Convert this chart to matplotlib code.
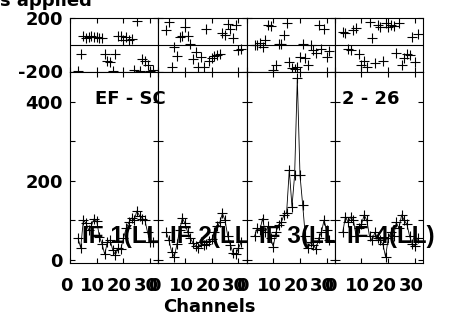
import numpy as np
import matplotlib
matplotlib.use("Agg")
import matplotlib.pyplot as plt
from matplotlib.ticker import FixedLocator
from matplotlib.transforms import ScaledTranslation

plt.rcParams["axes.unicode_minus"] = False

# channels plotted in each IF
chans = np.arange(3, 32)

if_labels = ["IF 1(LL)", "IF 2(LL)", "IF 3(LL)", "IF 4(LL)"]

amp_if1 = [55, 31, 101, 93, 75, 87, 104, 98, 59, 40, 14, 46, 50, 25, 13,
           30, 28, 55, 80, 95, 106, 101, 124, 112, 105, 101, 70, 46, 45]
amp_if2 = [70, 50, 21, 8, 40, 75, 106, 93, 70, 55, 43, 35, 30, 45, 38,
           40, 48, 52, 70, 85, 95, 118, 100, 60, 38, 17, 15, 30, 45]
amp_if3 = [60, 80, 75, 105, 70, 85, 55, 34, 70, 89, 95, 114, 120, 228, 135,
           215, 460, 215, 140, 60, 30, 45, 38, 28, 55, 70, 101, 75, 50]
amp_if4 = [70, 110, 95, 109, 100, 60, 80, 90, 114, 100, 60, 50, 70, 55, 50,
           40, 8, 55, 70, 60, 95, 80, 114, 100, 90, 60, 40, 35, 55]

ph_if1 = [-195, -69, 69, 49, 55, 62, 55, 57, 52, 47, -69, -120, -132, -195, -69,
          69, 62, 32, 55, 32, 40, -190, 177, -195, -107, -125, -150, -195, -190]
ph_if2 = [107, 170, -170, -19, -82, 58, 69, 132, 69, 6, -107, -57, -170, -95, -170,
          119, -120, -100, -85, -80, -70, 90, 75, 157, 120, 54, 150, -40, -32]
ph_if3 = [-5, -4, 10, -20, 34, 147, 140, -190, -155, 9, 9, 72, 160, -130, -175,
          -180, -165, -90, 9, -100, -150, 0, -41, -60, 147, -30, 115, -92, -50]
ph_if4 = [97, 85, -29, -41, 110, 122, -70, -150, -125, -170, 172, 47, -140, 147, 134,
          -125, 160, 134, 150, 140, -60, 160, -150, -100, -70, -80, 60, -130, 80]

amps = [amp_if1, amp_if2, amp_if3, amp_if4]
phases = [ph_if1, ph_if2, ph_if3, ph_if4]

W, H = 450, 320
fig = plt.figure(figsize=(W / 100, H / 100), dpi=100)

bold = dict(family="DejaVu Sans", weight="bold")
x0, pw = 70, 88.25
shift = ScaledTranslation(-0.04, 0, fig.dpi_scale_trans)

for i in range(4):
    left = (x0 + i * pw) / W
    axp = fig.add_axes([left, 1 - 71.5 / H, pw / W, 53.5 / H])
    axa = fig.add_axes([left, 1 - 263 / H, pw / W, 191.5 / H])

    for ax in (axp, axa):
        ax.set_xlim(0, 33)
        ax.tick_params(which="both", direction="in", top=True, right=True,
                       length=3.6, width=0.8, labelsize=13)
        for s in ax.spines.values():
            s.set_linewidth(0.8)
        ax.xaxis.set_major_locator(FixedLocator([0, 10, 20, 30]))

    # phase panel
    axp.set_ylim(-200, 200)
    axp.axhline(0, color="black", lw=0.8)
    axp.plot(chans, phases[i], "+", color="black", ms=6.5, mew=0.8)
    axp.set_yticks([-200, 200])
    axp.set_xticklabels([])
    if i > 0:
        axp.set_yticklabels([])
    else:
        axp.tick_params(axis="y", pad=5)

    # amplitude panel
    axa.set_ylim(-7.6, 477)
    axa.plot(chans, amps[i], "-+", color="black", lw=0.6, ms=6.5, mew=0.8)
    axa.set_yticks([0, 200, 400])
    axa.yaxis.set_minor_locator(FixedLocator([100, 300]))
    axa.tick_params(axis="x", pad=10)
    if i > 0:
        axa.set_yticklabels([])
    else:
        axa.tick_params(axis="y", pad=5)

    axa.text(4.5, 60, if_labels[i], ha="left", va="center", fontsize=17.5,
             family="Liberation Sans", weight="bold")

    for ax in (axp, axa):
        for lab in ax.get_xticklabels() + ax.get_yticklabels():
            lab.set_fontweight("bold")
    for lab in axa.get_xticklabels():
        lab.set_transform(lab.get_transform() + shift)

fig.text(95 / W, 1 - 99 / H, "EF - SC", ha="left", va="center", fontsize=13, **bold)
fig.text(342 / W, 1 - 99 / H, "2 - 26", ha="left", va="center", fontsize=13, **bold)
fig.text(209 / W, 1 - 307 / H, "Channels", ha="center", va="center", fontsize=13, **bold)
fig.text(92 / W, 1 - 6 / H, "s applied", ha="right", va="baseline", fontsize=13, **bold)

fig.savefig("out.png", dpi=100)
